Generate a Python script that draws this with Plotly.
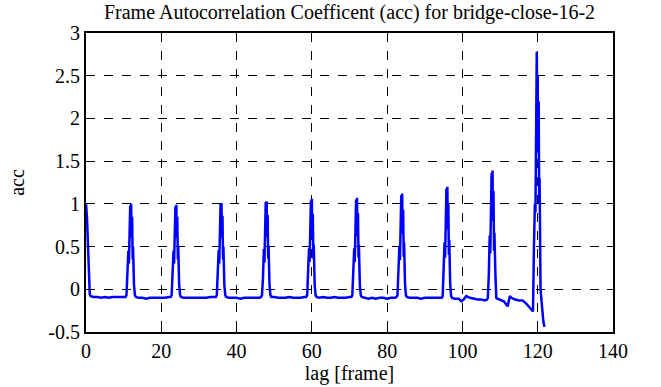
import plotly.graph_objects as go

title_text = "Frame Autocorrelation Coefficent (acc) for bridge-close-16-2"
x_label = "lag [frame]"
y_label = "acc"

x_tick_vals = [0, 20, 40, 60, 80, 100, 120, 140]
x_tick_text = ["0", "20", "40", "60", "80", "100", "120", "140"]
y_tick_vals = [-0.5, 0, 0.5, 1, 1.5, 2, 2.5, 3]
y_tick_text = ["-0.5", "0", "0.5", "1", "1.5", "2", "2.5", "3"]

lag = [
    0, 0.25, 0.5, 0.75, 1.0, 1.25, 2, 3, 4, 5, 6, 7, 8, 9, 10,
    10.5, 10.75, 11.0, 11.25, 11.4, 11.5, 11.6, 11.75, 11.85, 12.0, 12.1, 12.25, 12.4, 12.5, 12.75, 13.0, 13.25,
    14, 15, 16, 17, 18, 19, 20, 21, 22,
    22.5, 22.75, 23.0, 23.25, 23.4, 23.5, 23.6, 23.75, 23.85, 24.0, 24.1, 24.25, 24.4, 24.5, 24.75, 25.0, 25.25,
    26, 27, 28, 29, 30, 31, 32, 33, 34,
    34.5, 34.75, 35.0, 35.25, 35.4, 35.5, 35.6, 35.75, 35.85, 36.0, 36.1, 36.25, 36.4, 36.5, 36.75, 37.0, 37.25,
    38, 39, 40, 41, 42, 43, 44, 45, 46,
    46.5, 46.75, 47.0, 47.25, 47.4, 47.5, 47.6, 47.75, 47.85, 48.0, 48.1, 48.25, 48.4, 48.5, 48.75, 49.0, 49.25,
    50, 51, 52, 53, 54, 55, 56, 57, 58,
    58.5, 58.75, 59.0, 59.25, 59.4, 59.5, 59.6, 59.75, 59.85, 60.0, 60.1, 60.25, 60.4, 60.5, 60.75, 61.0, 61.25,
    62, 63, 64, 65, 66, 67, 68, 69, 70,
    70.5, 70.75, 71.0, 71.25, 71.4, 71.5, 71.6, 71.75, 71.85, 72.0, 72.1, 72.25, 72.4, 72.5, 72.75, 73.0, 73.25,
    74, 75, 76, 77, 78, 79, 80, 81, 82,
    82.5, 82.75, 83.0, 83.25, 83.4, 83.5, 83.6, 83.75, 83.85, 84.0, 84.1, 84.25, 84.4, 84.5, 84.75, 85.0, 85.25,
    86, 87, 88, 89, 90, 91, 92, 93, 94,
    94.5, 94.75, 95.0, 95.25, 95.4, 95.5, 95.6, 95.75, 95.85, 96.0, 96.1, 96.25, 96.4, 96.5, 96.75, 97.0, 97.25,
    98, 99, 99.7, 100.3, 101, 102, 103, 104, 105, 106,
    106.5, 106.75, 107.0, 107.25, 107.4, 107.5, 107.6, 107.75, 107.85, 108.0, 108.1, 108.25, 108.4, 108.5, 108.75, 109.0, 109.25,
    110, 111, 112, 112.6, 113, 114, 115, 116, 117, 118, 118.6,
    118.75, 119.0, 119.25, 119.4, 119.5, 119.6, 119.75, 119.85, 120.0, 120.1, 120.25, 120.4, 120.5, 120.75, 121.0, 121.25, 121.5, 121.8,
]

acc = [
    1.0, 0.85, 0.55, 0.2, -0.06, -0.08, -0.09, -0.09, -0.1, -0.09, -0.1, -0.09, -0.09, -0.09, -0.09,
    -0.09, -0.07, 0.12, 0.45, 0.3, 0.7, 0.55, 0.98, 0.8, 1.0, 0.6, 0.85, 0.35, 0.5, 0.05, -0.07, -0.09,
    -0.1, -0.1, -0.11, -0.1, -0.1, -0.1, -0.1, -0.1, -0.09,
    -0.09, -0.07, 0.12, 0.45, 0.3, 0.7, 0.55, 0.97, 0.8, 0.99, 0.6, 0.85, 0.35, 0.5, 0.05, -0.07, -0.09,
    -0.1, -0.1, -0.1, -0.1, -0.1, -0.1, -0.1, -0.09, -0.09,
    -0.09, -0.07, 0.12, 0.46, 0.3, 0.71, 0.56, 1.0, 0.8, 1.01, 0.6, 0.86, 0.35, 0.5, 0.05, -0.07, -0.09,
    -0.1, -0.1, -0.1, -0.11, -0.1, -0.1, -0.1, -0.1, -0.1,
    -0.09, -0.07, 0.12, 0.47, 0.31, 0.72, 0.57, 1.02, 0.82, 1.03, 0.61, 0.87, 0.36, 0.51, 0.05, -0.07, -0.09,
    -0.09, -0.1, -0.1, -0.1, -0.09, -0.1, -0.1, -0.1, -0.09,
    -0.09, -0.07, 0.13, 0.48, 0.32, 0.73, 0.58, 1.04, 0.83, 1.06, 0.62, 0.88, 0.36, 0.52, 0.05, -0.07, -0.09,
    -0.1, -0.09, -0.1, -0.1, -0.09, -0.1, -0.1, -0.1, -0.09,
    -0.09, -0.07, 0.13, 0.48, 0.32, 0.74, 0.58, 1.05, 0.84, 1.07, 0.62, 0.89, 0.37, 0.52, 0.05, -0.07, -0.09,
    -0.1, -0.11, -0.1, -0.11, -0.1, -0.1, -0.11, -0.1, -0.1,
    -0.09, -0.07, 0.14, 0.51, 0.34, 0.78, 0.61, 1.1, 0.88, 1.12, 0.65, 0.93, 0.38, 0.55, 0.06, -0.07, -0.09,
    -0.1, -0.1, -0.1, -0.11, -0.1, -0.1, -0.1, -0.1, -0.1,
    -0.1, -0.08, 0.15, 0.55, 0.37, 0.84, 0.66, 1.18, 0.95, 1.2, 0.7, 1.0, 0.4, 0.58, 0.06, -0.08, -0.1,
    -0.11, -0.11, -0.14, -0.12, -0.08, -0.1, -0.11, -0.12, -0.12, -0.13,
    -0.12, -0.1, 0.16, 0.63, 0.42, 0.96, 0.75, 1.36, 1.08, 1.39, 0.8, 1.15, 0.45, 0.66, 0.19, -0.1, -0.11,
    -0.12, -0.14, -0.2, -0.08, -0.1, -0.12, -0.13, -0.13, -0.17, -0.22, -0.26,
    -0.26, 0.5, 1.0, 0.9, 2.0, 1.5, 2.78, 2.2, 2.5, 1.6, 2.2, 1.0, 1.3, 0.0, -0.16, -0.3, -0.38, -0.44,
]

serif = "Liberation Serif"

fig = go.Figure()
fig.add_trace(go.Scatter(
    x=lag, y=acc, mode="lines",
    line=dict(color="#0000ff", width=2.5),
    showlegend=False,
))

axis_common = dict(
    showline=True, linecolor="black", linewidth=2, mirror="ticks",
    ticks="inside", ticklen=6, tickcolor="black", tickwidth=1,
    showgrid=True, gridcolor="black", griddash="dash", gridwidth=1,
    zeroline=False,
    tickfont=dict(family=serif, size=20, color="black"),
)

fig.update_xaxes(
    range=[0, 140], tickmode="array", tickvals=x_tick_vals, ticktext=x_tick_text,
    title=dict(text=x_label, font=dict(family=serif, size=20, color="black"), standoff=4),
    **axis_common,
)
fig.update_yaxes(
    range=[-0.5, 3], tickmode="array", tickvals=y_tick_vals, ticktext=y_tick_text,
    title=dict(text=y_label, font=dict(family=serif, size=20, color="black"), standoff=18),
    **axis_common,
)

fig.update_layout(
    width=661, height=387,
    margin=dict(l=86, r=48, t=33, b=55, autoexpand=False),
    paper_bgcolor="white", plot_bgcolor="white",
    title=dict(text=title_text, x=0.5, xref="paper", y=1 - 12 / 387, yref="container",
               yanchor="middle", xanchor="center",
               font=dict(family=serif, size=20, color="black")),
)

fig.write_html("out.html", config={"displayModeBar": False},
               post_script="document.body.style.margin='0';")
